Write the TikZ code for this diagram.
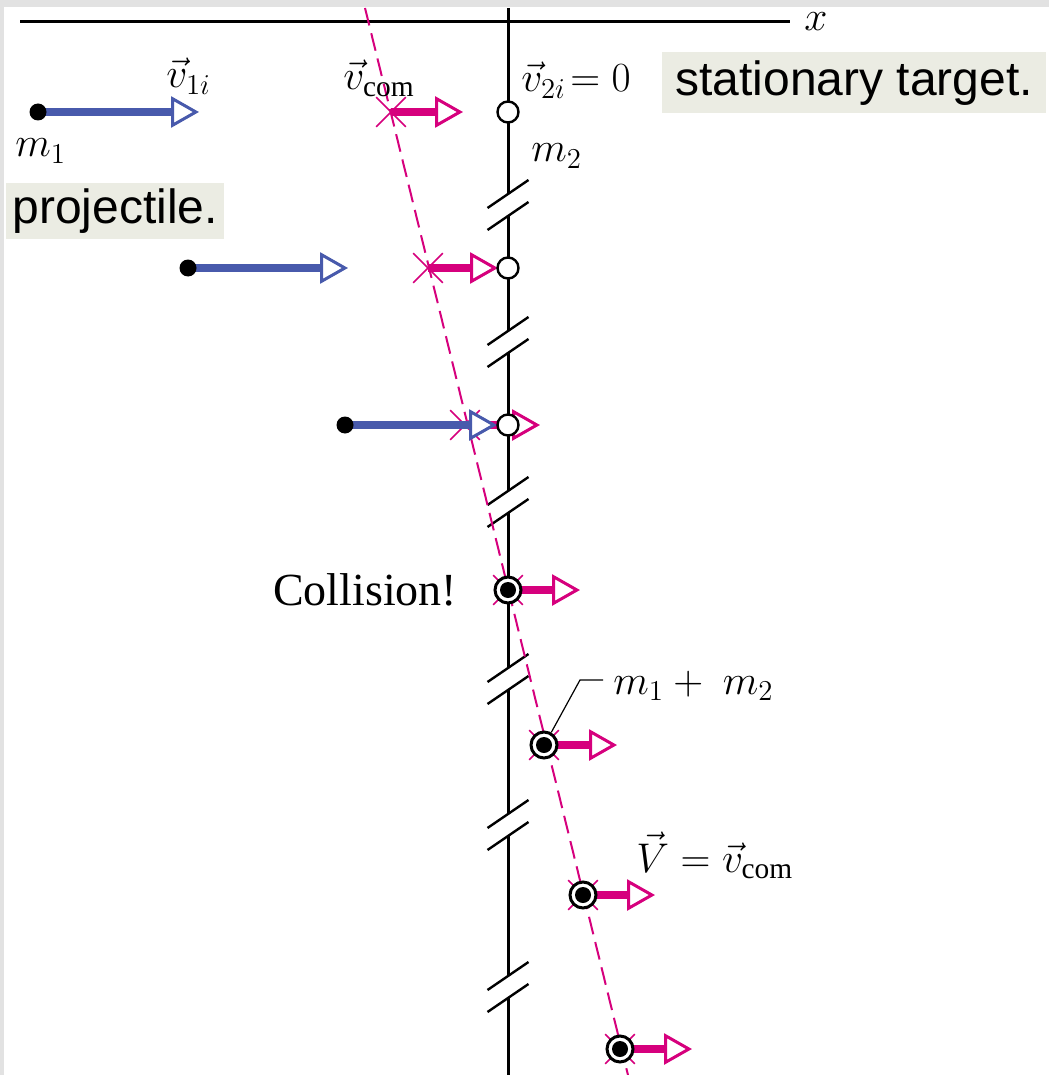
\documentclass[tikz,border=0pt]{standalone}
\usepackage{amsmath}
\usepackage{fontspec}
\setmainfont{Liberation Serif}
\newfontfamily\notefont{Liberation Sans}
\usepackage{tikz}
\usetikzlibrary{positioning, arrows.meta, shapes.misc}
\definecolor{projblue}{RGB}{72,90,172}
\definecolor{commag}{RGB}{214,0,125}
\definecolor{notegray}{RGB}{235,236,227}
\definecolor{framegray}{RGB}{226,226,226}

% double slash where the time line is cut
\newcommand{\cutmark}[1]{%
  \draw[cutline] (487.5,#1+3) -- (528.5,#1-25);
  \draw[cutline] (487.5,#1+25) -- (528.5,#1-3);}

\begin{document}
\begin{tikzpicture}[x=0.5pt, y=-0.5pt,
    axisline/.style={line width=1.5pt},
    cutline/.style={line width=1.2pt},
    comline/.style={commag, line width=1pt, dash pattern=on 9pt off 4pt},
    comx/.style={cross out, draw=commag, line width=0.8pt, minimum size=14pt, inner sep=0pt},
    vtip/.style={-{Triangle[fill=white, length=14pt, width=15.5pt, line width=1.5pt]}},
    vblue/.style={vtip, projblue, line width=4pt},
    vmag/.style={vtip, commag, line width=4pt},
    ball/.style={circle, fill=black, minimum size=8.5pt, inner sep=0pt},
    target/.style={circle, draw=black, fill=white, line width=1.2pt, minimum size=10.5pt, inner sep=0pt},
    merged/.style={circle, draw=black, fill=white, line width=1.5pt, minimum size=13pt, inner sep=0pt,
        path picture={\fill[black] (path picture bounding box.center) circle (4pt);}},
    lbl/.style={font=\fontsize{21}{25}\selectfont, inner sep=0pt},
    note/.style={fill=notegray, font=\notefont\fontsize{24}{28}\selectfont, inner ysep=0pt, anchor=west},
    leader/.style={line width=0.6pt}
]
% page and frame
\fill[white] (0,0) rectangle (1049,1075);
\fill[framegray] (0,0) rectangle (1049,7);
\fill[framegray] (0,0) rectangle (4,1075);
\useasboundingbox (0,0) rectangle (1049,1075);

% positions
\coordinate (xstart) at (20,22);
\coordinate (xend) at (790,22);
\coordinate (comtop) at (365,8);
\coordinate (combot) at (628,1075);
\coordinate (p1) at (38,112);
\coordinate (p2) at (188,268);
\coordinate (p3) at (345,425);
\coordinate (q1) at (508,112);
\coordinate (q2) at (508,268);
\coordinate (q3) at (508,425);
\coordinate (r4) at (508,590);
\coordinate (r5) at (544,745);
\coordinate (r6) at (583,895);
\coordinate (r7) at (620,1049);
\coordinate (b1) at (199,112);
\coordinate (b2) at (348,268);
\coordinate (b3) at (497,425);
\coordinate (e1) at (463,112);
\coordinate (e2) at (498,268);
\coordinate (e3) at (540,425);
\coordinate (e4) at (580,590);
\coordinate (e5) at (617,745);
\coordinate (e6) at (655,895);
\coordinate (e7) at (692,1049);

% x axis and time line
\draw[axisline] (xstart) -- (xend);
\node[lbl, right=7pt of xend] (lx) {$x$};
\draw[axisline] (508,8) -- (508,194);
\draw[axisline] (508,216) -- (508,331);
\draw[axisline] (508,353) -- (508,491);
\draw[axisline] (508,513) -- (508,668);
\draw[axisline] (508,690) -- (508,814);
\draw[axisline] (508,836) -- (508,976);
\draw[axisline] (508,998) -- (508,1075);
\cutmark{205}
\cutmark{342}
\cutmark{502}
\cutmark{679}
\cutmark{825}
\cutmark{987}

% centre of mass
\draw[comline] (comtop) -- (combot);
\node[comx] (x1) at (391,112) {};
\node[comx] (x2) at (428,268) {};
\node[comx] (x3) at (465,425) {};
\node[comx] (x4) at (r4) {};
\node[comx] (x5) at (r5) {};
\node[comx] (x6) at (r6) {};
\node[comx] (x7) at (r7) {};
\draw[vmag] (x1.center) -- (e1);
\draw[vmag] (x2.center) -- (e2);
\draw[vmag] (x3.center) -- (e3);
\draw[vmag] (x4.center) -- (e4);
\draw[vmag] (x5.center) -- (e5);
\draw[vmag] (x6.center) -- (e6);
\draw[vmag] (x7.center) -- (e7);

% projectile
\draw[vblue] (p1) -- (b1);
\draw[vblue] (p2) -- (b2);
\draw[vblue] (p3) -- (b3);
\node[ball] (ball1) at (p1) {};
\node[ball] (ball2) at (p2) {};
\node[ball] (ball3) at (p3) {};

% target, then both stuck together
\node[target] (tgt1) at (q1) {};
\node[target] (tgt2) at (q2) {};
\node[target] (tgt3) at (q3) {};
\node[merged] (pair4) at (r4) {};
\node[merged] (pair5) at (r5) {};
\node[merged] (pair6) at (r6) {};
\node[merged] (pair7) at (r7) {};

% labels
\node[lbl, anchor=base west] (lv1) at (166,88) {$\vec{v}_{1i}$};
\node[lbl, anchor=base west] (lvc) at (343,90) {$\vec{v}_{\mathrm{com}}$};
\node[lbl, anchor=base west] (lv2) at (521,92) {$\vec{v}_{2i}\!= 0$};
\node[lbl, anchor=base west] (lm1) at (15,157) {$m_1$};
\node[lbl, anchor=base west] (lm2) at (531,162) {$m_2$};
\node[note, minimum height=30.5pt, inner xsep=6.5pt] (ltarget) at (662,83) {stationary target.};
\node[note, minimum height=28pt, inner xsep=3pt] (lproj) at (6,211) {projectile.};
\node[lbl, font=\fontsize{23}{27}\selectfont, left=18pt of pair4] (lcoll) {Collision!};
\node[lbl, anchor=base west] (lsum) at (613,694) {$m_1 + \ m_2$};
\coordinate (lead) at (580,680);
\coordinate (leadend) at (603,680);
\draw[leader] (pair5.60) -- (lead) -- (leadend);
\node[lbl, anchor=base west] (lV) at (636,872) {$\vec{V} = \vec{v}_{\mathrm{com}}$};
\end{tikzpicture}
\end{document}
